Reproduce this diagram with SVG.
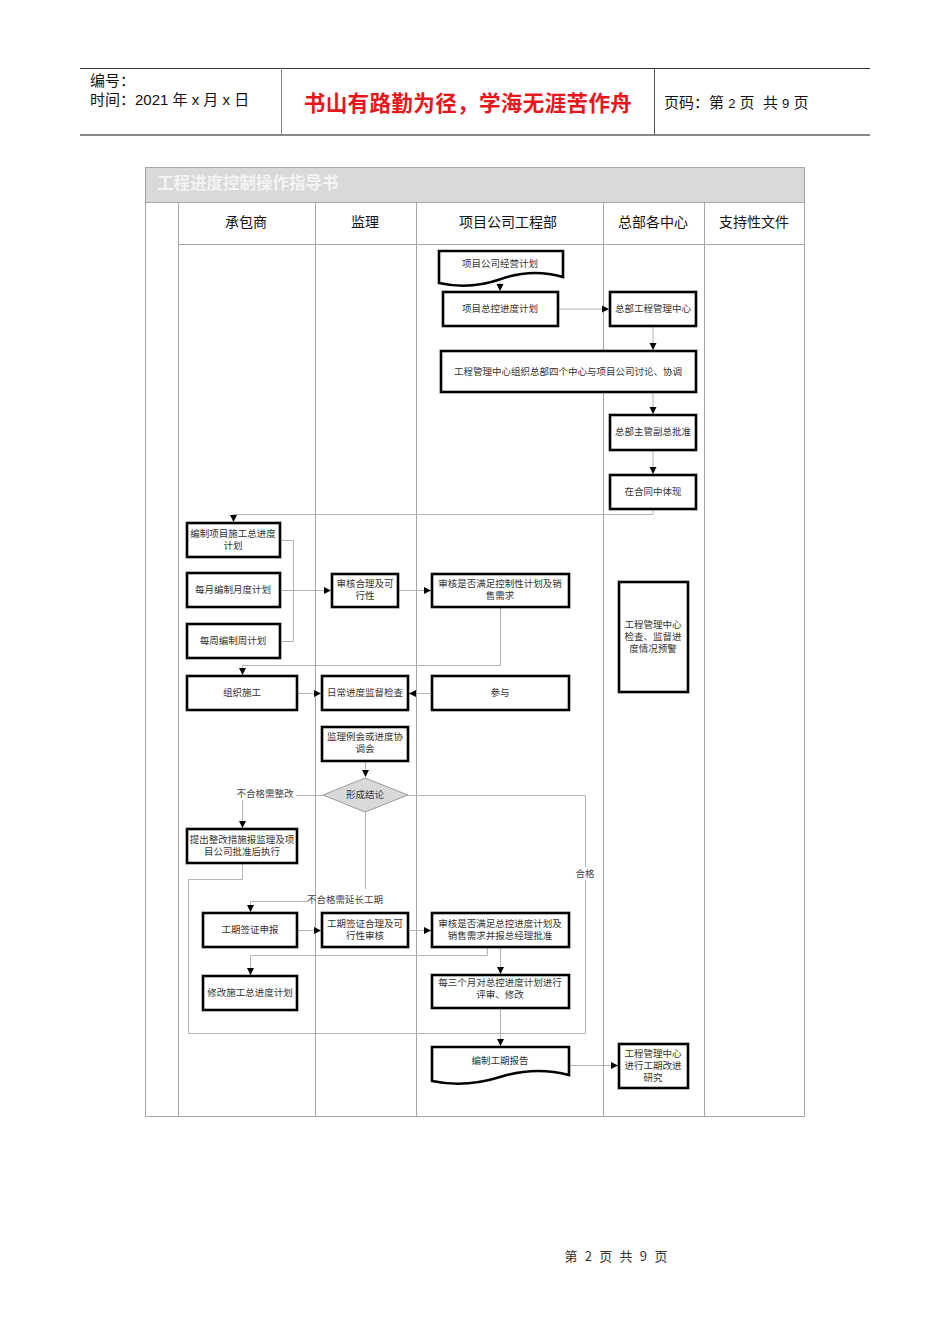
<svg xmlns="http://www.w3.org/2000/svg" width="950" height="1344" viewBox="0 0 950 1344">
<style>
.hd{font-family:"Liberation Sans","Noto Sans CJK SC",sans-serif;fill:#111}
.red{font-family:"Noto Sans CJK SC",sans-serif;fill:#e8161c;font-weight:bold;font-size:21.5px;letter-spacing:0.4px}
.grid{stroke:#a6a6a6;stroke-width:1;fill:none}
.box{fill:#fff;stroke:#000;stroke-width:2.6}
.t{font-family:"Noto Sans CJK SC",sans-serif;font-size:9.5px;fill:#333;text-anchor:middle}
.col{font-family:"Noto Sans CJK SC",sans-serif;font-size:14px;fill:#111;text-anchor:middle}
.cn{fill:none;stroke:#b3b3b3;stroke-width:1}
.lbl{font-family:"Noto Sans CJK SC",sans-serif;font-size:9.5px;fill:#444;text-anchor:middle}
</style>
<defs>
<marker id="ah" markerWidth="8" markerHeight="8" refX="7" refY="4" orient="auto" markerUnits="userSpaceOnUse">
<path d="M0,0.5 L7,4 L0,7.5 Z" fill="#000"/>
</marker>
</defs>
<rect width="950" height="1344" fill="#fff"/>

<!-- page header -->
<g id="page-header">
<line x1="80" y1="68.5" x2="870" y2="68.5" stroke="#333" stroke-width="1"/>
<line x1="80" y1="135" x2="870" y2="135" stroke="#888" stroke-width="2"/>
<line x1="281.5" y1="68" x2="281.5" y2="135" stroke="#888" stroke-width="1"/>
<line x1="654.5" y1="68" x2="654.5" y2="135" stroke="#555" stroke-width="1"/>
<text class="hd" x="90" y="86" font-size="15">编号：</text>
<text class="hd" x="90" y="105" font-size="15">时间：2021 年 x 月 x 日</text>
<text class="red" x="468" y="111" text-anchor="middle">书山有路勤为径，学海无涯苦作舟</text>
<text class="hd" x="664" y="108" font-size="15" xml:space="preserve">页码：第 <tspan font-size="13">2</tspan> 页  共 <tspan font-size="13">9</tspan> 页</text>
</g>

<!-- table frame -->
<g id="table">
<rect x="145" y="167" width="660" height="35" fill="#d9d9d9"/>
<rect x="145.5" y="167.5" width="659" height="949" class="grid"/>
<line x1="145" y1="202.5" x2="805" y2="202.5" class="grid"/>
<line x1="178" y1="244.5" x2="805" y2="244.5" class="grid"/>
<line x1="178.5" y1="202" x2="178.5" y2="1117" class="grid"/>
<line x1="315.5" y1="202" x2="315.5" y2="1117" class="grid"/>
<line x1="416.5" y1="202" x2="416.5" y2="1117" class="grid"/>
<line x1="603.5" y1="202" x2="603.5" y2="1117" class="grid"/>
<line x1="704.5" y1="202" x2="704.5" y2="1117" class="grid"/>
<text x="157" y="189" font-family="Noto Sans CJK SC,sans-serif" font-size="16.5" font-weight="bold" fill="#f4f4f4">工程进度控制操作指导书</text>
<text class="col" x="246" y="227">承包商</text>
<text class="col" x="365" y="227">监理</text>
<text class="col" x="508" y="227">项目公司工程部</text>
<text class="col" x="653" y="227">总部各中心</text>
<text class="col" x="754" y="227">支持性文件</text>
</g>

<!-- connectors -->
<g id="connectors">
<path class="cn" d="M500,282 V291" marker-end="url(#ah)"/>
<path class="cn" d="M558,309 H609" marker-end="url(#ah)"/>
<path class="cn" d="M653,326 V350" marker-end="url(#ah)"/>
<path class="cn" d="M653,392 V414" marker-end="url(#ah)"/>
<path class="cn" d="M653,450 V474" marker-end="url(#ah)"/>
<path class="cn" d="M653,509 V514.5 H233.5 V522" marker-end="url(#ah)"/>
<path class="cn" d="M280,540.5 H293.5 V641.5 H280"/>
<path class="cn" d="M280,590.5 H331" marker-end="url(#ah)"/>
<path class="cn" d="M398,590.5 H431" marker-end="url(#ah)"/>
<path class="cn" d="M500.5,607 V665.5 H242.5 V675" marker-end="url(#ah)"/>
<path class="cn" d="M297,693.5 H321" marker-end="url(#ah)"/>
<path class="cn" d="M432,693.5 H409" marker-end="url(#ah)"/>
<path class="cn" d="M365.5,761 V777" marker-end="url(#ah)"/>
<path class="cn" d="M323,795.5 H296"/>
<path class="cn" d="M242.5,800 V828" marker-end="url(#ah)"/>
<path class="cn" d="M408,795.5 H585.5 V1033.5 H500.5"/>
<path class="cn" d="M242.5,863 V879.5 H188.5 V1033.5 H500.5"/>
<path class="cn" d="M500.5,1008 V1046" marker-end="url(#ah)"/>
<path class="cn" d="M365.5,812 V889"/>
<path class="cn" d="M308,901.5 H250.5 V912" marker-end="url(#ah)"/>
<path class="cn" d="M297,930.5 H321" marker-end="url(#ah)"/>
<path class="cn" d="M408,930.5 H431" marker-end="url(#ah)"/>
<path class="cn" d="M487.5,947 V955.5 H250.5 V975" marker-end="url(#ah)"/>
<path class="cn" d="M500.5,947 V974" marker-end="url(#ah)"/>
<path class="cn" d="M569,1065.5 H618" marker-end="url(#ah)"/>
<rect x="573" y="867" width="24" height="13" fill="#fff"/>
<text class="lbl" x="585" y="877">合格</text>
<text class="lbl" x="265" y="797">不合格需整改</text>
<text class="lbl" x="345" y="903">不合格需延长工期</text>
</g>

<!-- nodes -->
<g id="n1"><path class="box" d="M439,251 H563 V277 Q532,268 501,279 T439,283 Z"/><text class="t" x="500" y="267">项目公司经营计划</text></g>
<g id="n2"><rect class="box" x="443" y="292" width="115" height="34"/><text class="t" x="500" y="312">项目总控进度计划</text></g>
<g id="n3"><rect class="box" x="610" y="292" width="86" height="34"/><text class="t" x="653" y="312">总部工程管理中心</text></g>
<g id="n4"><rect class="box" x="441" y="351" width="255" height="41"/><text class="t" x="568" y="375">工程管理中心组织总部四个中心与项目公司讨论、协调</text></g>
<g id="n5"><rect class="box" x="610" y="415" width="86" height="35"/><text class="t" x="653" y="435">总部主管副总批准</text></g>
<g id="n6"><rect class="box" x="610" y="475" width="86" height="34"/><text class="t" x="653" y="495">在合同中体现</text></g>
<g id="n7"><rect class="box" x="187" y="523" width="93" height="34"/><text class="t" x="233" y="537">编制项目施工总进度</text><text class="t" x="233" y="549">计划</text></g>
<g id="n8"><rect class="box" x="187" y="573" width="93" height="34"/><text class="t" x="233" y="593">每月编制月度计划</text></g>
<g id="n9"><rect class="box" x="187" y="624" width="93" height="34"/><text class="t" x="233" y="644">每周编制周计划</text></g>
<g id="n10"><rect class="box" x="332" y="574" width="66" height="33"/><text class="t" x="365" y="587">审核合理及可</text><text class="t" x="365" y="599">行性</text></g>
<g id="n11"><rect class="box" x="432" y="574" width="137" height="33"/><text class="t" x="500" y="587">审核是否满足控制性计划及销</text><text class="t" x="500" y="599">售需求</text></g>
<g id="n12"><rect class="box" x="187" y="676" width="110" height="34"/><text class="t" x="242" y="696">组织施工</text></g>
<g id="n13"><rect class="box" x="322" y="676" width="86" height="34"/><text class="t" x="365" y="696">日常进度监督检查</text></g>
<g id="n14"><rect class="box" x="432" y="676" width="137" height="34"/><text class="t" x="500" y="696">参与</text></g>
<g id="n15"><rect class="box" x="619" y="582" width="69" height="110"/><text class="t" x="653" y="628">工程管理中心</text><text class="t" x="653" y="640">检查、监督进</text><text class="t" x="653" y="652">度情况预警</text></g>
<g id="n16"><rect class="box" x="322" y="727" width="86" height="34"/><text class="t" x="365" y="740">监理例会或进度协</text><text class="t" x="365" y="752">调会</text></g>
<g id="n17"><path d="M365,778 L408,795 L365,812 L323,795 Z" fill="#d9d9d9" stroke="#9a9a9a" stroke-width="1"/><text class="t" x="365" y="798">形成结论</text></g>
<g id="n18"><rect class="box" x="187" y="829" width="110" height="34"/><text class="t" x="242" y="843">提出整改措施报监理及项</text><text class="t" x="242" y="855">目公司批准后执行</text></g>
<g id="n19"><rect class="box" x="203" y="913" width="94" height="34"/><text class="t" x="250" y="933">工期签证申报</text></g>
<g id="n20"><rect class="box" x="322" y="913" width="86" height="34"/><text class="t" x="365" y="927">工期签证合理及可</text><text class="t" x="365" y="939">行性审核</text></g>
<g id="n21"><rect class="box" x="432" y="913" width="137" height="34"/><text class="t" x="500" y="927">审核是否满足总控进度计划及</text><text class="t" x="500" y="939">销售需求并报总经理批准</text></g>
<g id="n22"><rect class="box" x="203" y="976" width="94" height="34"/><text class="t" x="250" y="996">修改施工总进度计划</text></g>
<g id="n23"><rect class="box" x="432" y="975" width="137" height="33"/><text class="t" x="500" y="986">每三个月对总控进度计划进行</text><text class="t" x="500" y="998">评审、修改</text></g>
<g id="n24"><path class="box" d="M432,1047 H569 V1075 Q535,1066 500,1077 T432,1081 Z"/><text class="t" x="500" y="1064">编制工期报告</text></g>
<g id="n25"><rect class="box" x="619" y="1044" width="69" height="44"/><text class="t" x="653" y="1057">工程管理中心</text><text class="t" x="653" y="1069">进行工期改进</text><text class="t" x="653" y="1081">研究</text></g>

<g id="footer"><text x="617" y="1261" font-family="Noto Sans CJK SC,sans-serif" font-size="13" fill="#333" text-anchor="middle" letter-spacing="2.2" xml:space="preserve">第 2 页 共 9 页</text></g>
</svg>
